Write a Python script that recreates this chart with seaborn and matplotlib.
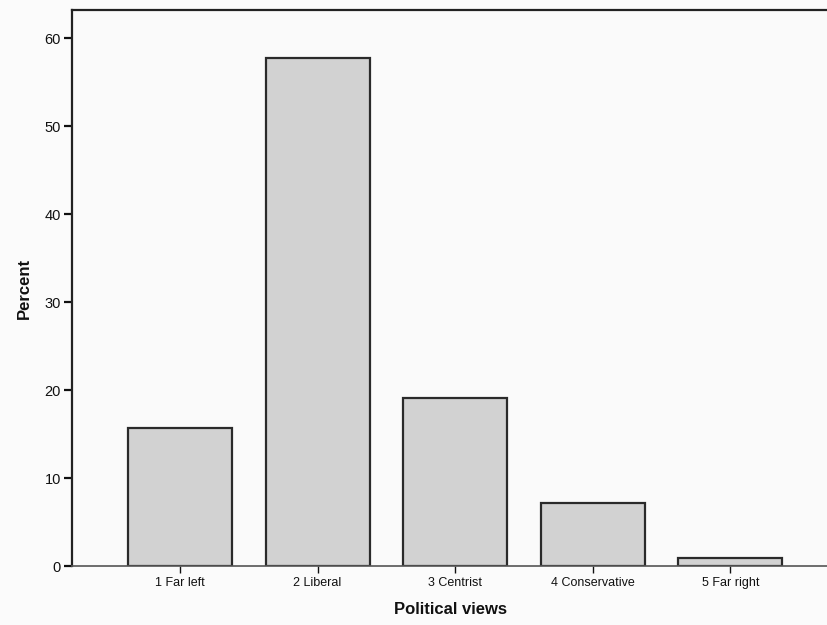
import matplotlib
matplotlib.use("Agg")
import matplotlib.pyplot as plt
import seaborn as sns
import pandas as pd

# Werte
categories = ["1 Far left", "2 Liberal", "3 Centrist", "4 Conservative", "5 Far right"]
percent = [15.7, 57.7, 19.1, 7.2, 0.9]

df = pd.DataFrame({"view": categories, "percent": percent})

sns.set_style("ticks")
plt.rcParams["font.family"] = ["Liberation Sans", "DejaVu Sans"]

fig = plt.figure(figsize=(8.28, 6.25), dpi=100)
fig.patch.set_facecolor("#fbfbfb")
ax = fig.add_axes([0.087, 0.094, 0.913, 0.89])
ax.set_facecolor("#fafafa")

sns.barplot(
    data=df,
    x="view",
    y="percent",
    color="#d2d2d2",
    edgecolor="#2a2a2a",
    linewidth=1.6,
    width=0.755,
    saturation=1,
    ax=ax
)

ax.set_xlim(-0.785, 4.71)
ax.set_ylim(0, 63.2)
ax.set_yticks([0, 10, 20, 30, 40, 50, 60])

ax.spines["right"].set_visible(False)
ax.spines["top"].set_linewidth(1.6)
ax.spines["left"].set_linewidth(1.6)
ax.spines["bottom"].set_linewidth(1.2)
ax.spines["bottom"].set_color("#555555")
for s in ax.spines.values():
    if s is not ax.spines["bottom"]:
        s.set_color("#222222")

ax.tick_params(axis="y", length=6, width=1.6, labelsize=10.5, pad=2, colors="#111111")
ax.tick_params(axis="x", length=5, width=1, labelsize=9, pad=3, colors="#111111")

ax.set_xlabel("Political views", fontsize=12, fontweight="bold", labelpad=9, color="#111111")
ax.set_ylabel("Percent", fontsize=12, fontweight="bold", labelpad=9, color="#111111")

fig.savefig("out.png", dpi=100, facecolor=fig.get_facecolor())
plt.close(fig)
